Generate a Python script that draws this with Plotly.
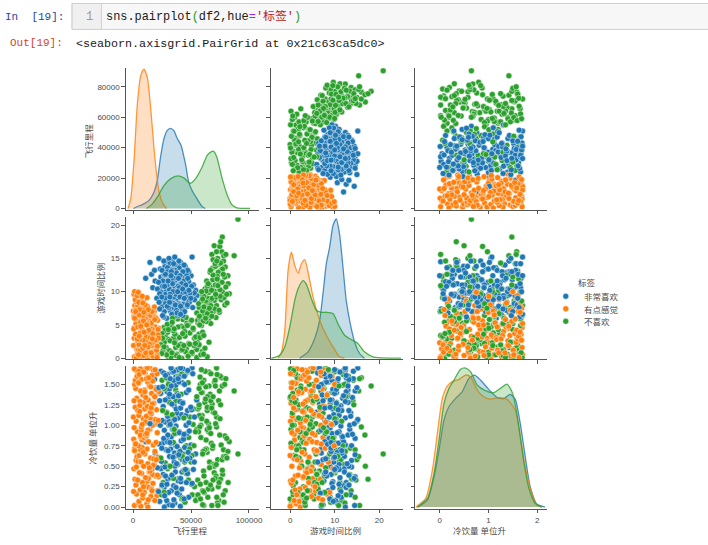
import plotly.graph_objects as go

W, H = 708, 545
BLUE, ORANGE, GREEN = "#1f77b4", "#ff7f0e", "#2ca02c"
CLASS_NAMES = ["非常喜欢", "有点感觉", "不喜欢"]
AXIS_TITLES = ["飞行里程", "游戏时间比例", "冷饮量 单位升"]

orange_mileage = [1200,4800,8300,11900,15400,18800,3000,6700,13100,20600,
2500,6100,9700,13600,17200,21200,500,8000,11200,15900,
3900,7400,10800,14700,19400,1700,5500,12400,16800,22000,
800,4300,9100,12700,16200,20100,2900,7000,14100,18200,
3400,6500,10200,15100,18900,1500,5200,8700,12000,21500,
2100,5900,9400,13300,17500,600,4500,7700,11400,19800,
3700,7200,10600,14400,16600,20900,1000,6300,12900,18400,
2700,5000,8900,11700,15700,19200,300,7900,13800,21700,
4100,6900,10000,14900,17900,1900,5700,9200,12300,20300,
3200,6000,8500,13000,16000,18700,900,7500,11000,22200,
2300,4700,9900,14200,17000,19600,1400,6600,12600,15300,
3600,7100,10400,13500,18100,2000,5300,8100,11600,20700,
2800,6200,9600,14600,16400,19000,1100,4900,12100,17700,
5100,9000,14000,18000,2200,7300,11500,16700,20000,3500,
8400,13200,17400,1300,6400,10500,15600,19100,4600,9300,
12800,16300,21000,2600,7800,11800,14800,5800,10100,18600]
orange_game = [0.2,3.1,6.4,1.4,4.8,0.9,8.2,0.0,7.3,2.6,
5.2,1.1,8.9,3.4,0.3,5.7,1.9,4.2,6.1,2.2,
0.6,7.6,2.9,4.6,1.2,6.8,3.7,0.1,5.9,3.0,
9.6,2.4,0.4,6.6,3.9,1.6,4.9,8.6,2.1,7.0,
1.3,5.4,3.3,0.7,6.2,7.9,0.0,2.7,9.1,4.3,
3.6,0.2,7.4,5.0,2.0,4.4,9.9,1.0,3.2,6.0,
8.0,2.5,0.9,4.1,6.9,0.4,3.0,5.6,1.7,7.7,
0.1,6.5,3.8,2.3,5.3,1.5,7.1,9.3,0.6,3.5,
4.7,1.8,6.7,3.1,0.2,8.8,2.8,5.1,7.8,1.2,
0.0,3.4,8.3,4.0,1.9,5.8,6.3,2.6,0.8,4.5,
7.2,0.5,2.2,5.5,3.7,0.3,10.0,4.8,1.4,6.4,
2.9,9.0,0.7,4.2,1.1,5.9,3.3,7.5,2.4,0.1,
6.1,1.6,3.9,0.5,7.0,2.7,4.6,8.4,5.2,3.6,
2.0,5.6,3.5,1.0,7.0,4.0,0.5,2.9,3.4,9.4,
1.5,5.1,2.4,6.0,3.0,8.0,0.8,4.7,1.2,6.9,
2.3,4.4,1.8,8.5,0.3,5.0,3.2,7.3,1.9,2.1]
orange_drink = [0.02,0.05,0.11,0.04,0.13,0.08,0.16,0.01,0.09,0.14,
0.27,0.21,0.18,0.24,0.29,0.2,0.19,0.3,0.26,0.22,
0.33,0.41,0.36,0.44,0.38,0.34,0.42,0.32,0.4,0.37,
0.47,0.56,0.5,0.53,0.46,0.58,0.49,0.55,0.48,0.52,
0.62,0.7,0.65,0.6,0.68,0.72,0.63,0.67,0.71,0.61,
0.78,0.74,0.85,0.8,0.76,0.83,0.75,0.82,0.87,0.79,
0.92,0.98,0.89,0.95,1.0,0.91,0.97,0.88,0.94,1.02,
1.05,1.12,1.08,1.03,1.14,1.07,1.1,1.01,1.13,1.06,
1.18,1.25,1.2,1.16,1.27,1.22,1.17,1.28,1.23,1.19,
1.33,1.29,1.37,1.31,1.39,1.35,1.3,1.4,1.34,1.41,
1.45,1.52,1.43,1.48,1.54,1.46,1.5,1.42,1.53,1.47,
1.6,1.56,1.64,1.58,1.66,1.55,1.62,1.68,1.57,1.63,
1.67,1.69,1.65,1.7,1.61,1.68,1.69,1.66,1.7,1.67,
0.07,0.25,0.43,0.59,0.77,0.93,1.11,1.26,1.44,1.6,
0.15,0.35,0.51,0.69,0.86,1.04,1.21,1.36,1.51,1.65,
0.0,0.2,0.39,0.57,0.73,0.9,1.09,1.24,1.41,1.59]

blue_mileage = [36000,27000,44000,31000,40000,23000,48000,34000,38000,29000,
42000,25000,33000,46000,37000,30000,51000,22000,39000,35000,
28000,43000,32000,47000,24000,41000,36500,26000,52000,33500,
38500,21000,45000,30500,35500,49000,27500,42500,37500,24500,
31500,40500,54000,28500,34500,44500,19000,39500,32500,47500,
25500,36800,43500,29500,50000,33000,22500,41500,38000,26500,
46500,35000,30000,48500,23500,40000,34000,27000,44000,37000,
31000,53000,20500,42000,36000,28000,45500,32000,39000,25000,
47000,35500,29000,41000,17000,33500,50500,38000,26000,43000,
30500,37500,23000,46000,34500,40500,28500,55000,31500,36500,
22300,44500,27500,39500,33000,48000,35000,25500,42500,29500,
14600,37000,32000,51500,24000,40000,38500,30000,50900,34000,
10900,43000,28000,36000,18500,41000,16000,26500,35000,31000,
35200,29200,42200,37800,31800,45800,25800,39200,33200,47200,
27200,41200,36200,30200,43800,34800,49800,23800,38800,32800,
40800,26800,45200,35800,28800,48200,37200,31200,44200,33800,
52800,24800,39800,29800,42800,36800,30800,46800,34200,27800]
blue_game = [10.6,12.4,8.9,7.4,13.6,9.7,11.5,14.5,6.8,10.2,
11.2,13.2,8.6,12.6,9.6,14.0,9.4,11.4,7.6,12.0,
8.2,10.0,11.2,7.8,12.2,14.4,8.0,9.2,11.0,13.2,
11.0,10.4,13.8,9.0,6.2,9.8,13.8,7.4,12.8,8.8,
12.2,9.2,10.2,11.2,10.0,12.0,11.6,14.6,7.0,10.6,
10.8,13.8,8.2,7.8,12.4,11.8,8.4,11.8,9.0,14.6,
9.4,7.6,13.0,8.4,13.4,10.6,9.0,7.0,14.0,11.4,
15.0,8.8,9.0,9.8,15.2,10.0,11.0,9.6,12.4,7.8,
13.2,11.4,6.0,7.8,10.6,6.6,10.8,13.6,11.0,13.0,
11.8,7.2,7.4,10.4,12.8,12.4,14.6,9.4,8.4,14.0,
15.0,7.0,9.6,8.2,13.0,13.0,9.4,6.4,12.8,12.6,
14.4,8.4,14.2,7.6,10.6,8.0,10.0,8.6,15.2,11.2,
12.0,6.4,12.6,12.4,13.2,6.6,12.6,6.2,14.2,10.6,
9.2,11.0,12.2,10.2,9.2,8.6,11.6,12.0,7.8,12.0,
10.8,9.6,13.2,11.6,11.6,8.2,9.0,10.0,10.8,12.4,
7.0,12.6,10.0,7.0,8.8,10.2,9.6,10.4,9.0,14.6,
9.8,9.2,11.0,13.6,10.4,11.8,7.6,8.0,13.4,9.0]
blue_drink = [0.05,0.0,0.1,0.03,0.15,0.07,0.12,0.02,0.17,0.08,
0.22,0.27,0.2,0.3,0.24,0.34,0.29,0.19,0.32,0.26,
0.38,0.44,0.36,0.41,0.47,0.35,0.43,0.4,0.46,0.39,
0.52,0.48,0.57,0.5,0.55,0.6,0.49,0.58,0.53,0.56,
0.62,0.68,0.65,0.7,0.61,0.73,0.66,0.64,0.71,0.67,
0.78,0.75,0.83,0.8,0.76,0.86,0.77,0.81,0.74,0.84,
0.9,0.96,0.88,0.93,1.0,0.91,0.97,0.94,0.89,0.99,
1.05,1.1,1.02,1.13,1.07,1.04,1.12,1.01,1.09,1.06,
1.18,1.24,1.16,1.21,1.05,1.26,1.19,1.15,1.23,1.28,
1.33,1.37,1.3,1.4,1.35,1.29,1.42,1.31,1.38,1.34,
1.46,1.5,1.44,1.53,1.48,1.43,1.55,1.47,1.52,1.41,
1.02,1.6,1.57,1.63,1.66,1.59,1.68,1.62,1.7,1.65,
0.8,1.69,1.61,1.67,1.56,1.7,1.58,1.64,1.66,1.54,
0.09,0.28,0.43,0.63,0.79,1.0,1.18,1.36,1.52,1.67,
0.14,0.31,0.5,0.69,0.87,1.06,1.22,1.39,1.57,1.7,
0.01,0.24,0.46,0.66,0.84,1.03,1.2,1.44,1.6,0.37,
0.55,0.72,0.92,1.11,1.27,1.49,0.18,0.59,0.95,1.31]

green_mileage = [30000,41000,52000,26000,58000,36000,47000,24500,62000,33000,44000,55000,28000,39000,60000,
31000,50000,27000,42000,57000,35000,46000,25000,64000,38000,53000,29000,43000,59000,32000,
48000,37000,61000,26500,45000,34000,56000,40000,30500,51000,28500,63000,36500,49000,24000,
41500,54000,33500,46500,27500,58500,38500,31500,44500,65500,52500,25500,39500,47500,35500,
55500,29500,42500,37000,50500,
60000,66000,72000,58000,75000,63000,69000,56000,78000,64000,
70000,61000,67000,74000,57000,80000,65000,71000,59000,76000,
62000,68000,73000,55000,79000,64500,70500,60500,66500,77000,
72500,58500,82000,63500,69500,74500,61500,67500,75500,57500,
71500,65500,81000,59500,78500,62500,68500,73500,56500,76500,
66000,71000,79500,64000,60000,72000,69000,75000,83000,67000,
90500,87200,77000,75500,70000,72000,80000,68000,
58200,61200,63800,65200,67800,70200,72800,74200,76800,79200,
57200,59800,62200,64800,66200,68800,71200,73800,75200,77800,
60800,63200,65800,68200,70800,73200,55800,78200,80800,69200,
62800,66800,71800,74800,59200,64200,67200,72200,77200,81800,
26800,29800,32800,35800,38800,41800,44800,47800,50800,53800,
56800,59800,24800,27800,30800,33800,36800,39800,42800,45800,
48800,51800,54800,57800,60800,25800,34800,43800,37800,46800]
green_game = [0.3,2.1,4.3,1.2,5.2,3.6,0.6,2.9,1.5,5.0,4.6,0.1,3.3,1.9,3.9,
0.9,5.6,2.4,0.0,2.0,4.1,1.4,3.7,0.2,6.2,3.0,0.5,5.8,4.9,2.6,
2.2,0.4,3.4,4.6,1.0,6.0,1.7,3.1,4.3,0.7,1.6,5.5,2.8,3.8,2.0,
4.8,3.2,0.8,5.3,2.7,0.5,5.9,1.1,4.0,2.4,1.9,3.0,6.4,0.3,4.4,
2.6,5.1,1.3,3.5,5.7,
7.1,11.0,9.2,6.0,13.1,8.4,12.5,5.3,14.6,6.7,
10.1,9.3,7.9,11.6,7.6,10.7,5.8,13.8,8.6,8.8,
10.4,6.3,15.0,6.8,12.2,9.0,7.4,5.6,12.9,10.0,
11.9,9.8,11.2,11.6,8.9,6.9,7.8,10.6,14.3,5.0,
6.1,9.9,8.3,6.5,9.1,6.0,13.5,12.9,8.2,16.0,
8.0,11.0,13.7,10.8,8.9,7.9,14.8,10.3,9.7,5.2,
20.9,15.4,18.2,17.5,16.9,16.0,15.6,15.6,
5.4,7.7,9.8,6.4,10.2,8.7,12.3,7.2,11.4,8.0,
6.3,9.4,5.9,11.2,8.5,11.8,9.6,14.1,9.3,12.6,
6.6,10.1,7.5,9.0,14.2,10.9,5.7,15.4,9.6,7.0,
7.3,13.2,12.2,16.8,10.0,8.1,6.8,14.6,13.4,12.4,
1.7,3.9,0.2,2.3,4.7,1.2,3.3,5.0,0.9,2.2,
3.6,1.0,0.7,4.2,2.8,5.4,1.6,0.1,3.7,6.1,
2.1,4.5,1.3,3.1,0.6,2.6,3.0,1.9,0.6,4.9]
green_drink = [0.04,0.6,1.2,0.3,1.5,0.9,1.65,0.15,0.7,1.1,0.45,1.35,0.8,1.6,0.2,
1.0,0.55,1.45,0.1,1.25,0.35,0.75,1.55,0.95,1.68,0.25,1.15,0.65,1.4,0.5,
0.85,1.3,0.02,1.05,1.62,0.4,1.2,0.7,1.5,0.15,1.58,0.3,0.9,1.1,0.6,
1.38,0.08,1.67,0.45,0.8,1.0,0.2,1.28,0.55,1.48,0.75,1.18,0.35,1.52,0.95,
0.12,1.42,0.62,1.64,0.28,
0.03,0.55,1.1,0.28,1.6,0.82,1.35,0.15,0.7,1.22,
0.42,1.55,0.9,0.08,1.45,0.62,1.02,0.35,1.68,0.76,
1.28,0.22,0.58,0.95,1.5,0.12,1.15,0.68,1.38,0.45,
1.62,0.85,0.3,1.05,0.52,1.42,0.18,0.78,1.25,0.98,
0.38,1.65,0.6,1.12,0.06,1.32,0.72,0.25,0.92,1.58,
0.48,1.48,0.2,1.18,0.65,1.7,0.33,1.08,0.8,1.3,
0.65,1.42,1.48,0.34,0.5,0.98,1.57,0.02,
0.1,0.38,0.67,0.92,1.21,1.53,0.05,0.3,0.58,0.87,
1.12,1.4,1.66,0.22,0.49,0.75,1.02,1.3,1.6,0.15,
0.44,0.71,0.97,1.26,1.55,0.02,0.33,0.62,0.84,1.16,
1.47,0.27,0.52,0.88,1.08,1.35,1.63,0.12,0.4,0.68,
0.18,0.47,0.78,1.08,1.36,1.63,0.06,0.33,0.63,0.92,
1.22,1.52,0.26,0.54,0.83,1.13,1.43,1.69,0.11,0.41,
0.71,1.01,1.31,1.59,0.19,0.49,0.79,1.09,1.39,1.66]

# Density curves as they appear on the diagonal, in the units of each row's axis
kde1_blue_x = [290,3700,8000,13700,18000,20900,23700,26600,29400,32300,35200,38000,41500,45200,48000,50900,55200,59500,62300]
kde1_blue_y = [0,1300,2600,5250,10700,18400,33700,45700,51200,52700,51200,46300,41300,29300,17300,11800,6300,1300,0]
kde1_orange_x = [-4300,-2000,860,3700,6600,9400,12300,15150,18000,20300,22300,25160,28900]
kde1_orange_y = [0,6340,31500,68600,87200,91600,86100,66450,40200,22700,11800,4150,0]
kde1_green_x = [11700,16600,20900,26600,32300,38600,43800,49500,53800,59500,63800,66600,69500,72300,76600,80900,85200,89500,100900]
kde1_green_y = [0,3060,7430,15100,19500,21400,20100,16600,19500,27100,34800,36900,37600,33700,20500,9600,2600,440,0]

kde2_blue_x = [2.16,4.03,5.52,6.64,7.39,8.13,8.88,9.63,10.37,11.1,11.87,12.6,13.58,14.48,15.6,16.7]
kde2_blue_y = [0,0.95,2.95,5.7,9.7,14.2,16.7,19.95,20.95,18.7,13.7,8.7,4.95,2.45,0.7,0]
kde2_orange_x = [-2.69,-1.94,-1.19,-0.45,0.3,1.04,1.79,2.54,3.28,4.03,5.15,6.64,8.13,9.63,11.1,12.2]
kde2_orange_y = [0,0.95,4.2,13.2,15.95,13.95,12.8,14.2,14.8,12.95,9.2,5.7,3.45,1.7,0.2,0]
kde2_green_x = [-4.18,-2.31,-1.19,-0.07,1.04,1.79,2.91,3.66,4.78,5.9,7.01,8.13,9.63,10.9,12.24,13.73,15.22,16.7,18.58,20.45,24.9]
kde2_green_y = [0,0.45,1.7,4.7,8.7,10.45,11.65,11.1,8.95,7.2,6.9,6.9,6.7,4.95,3.45,2.8,2.2,0.95,0.2,0.05,0]

kde3_blue_x = [-0.456,-0.252,-0.116,-0.014,0.088,0.19,0.327,0.463,0.599,0.714,0.837,1.007,1.177,1.313,1.449,1.551,1.653,1.755,1.857,1.993,2.163]
kde3_blue_y = [0,0.086,0.371,0.697,1.064,1.227,1.329,1.411,1.574,1.614,1.553,1.439,1.341,1.325,1.378,1.317,1.023,0.616,0.249,0.037,0]
kde3_orange_x = [-0.49,-0.286,-0.15,-0.048,0.054,0.156,0.259,0.395,0.531,0.633,0.769,0.905,1.041,1.211,1.381,1.551,1.653,1.755,1.891,1.993,2.095]
kde3_orange_y = [0,0.106,0.452,0.9,1.329,1.48,1.533,1.561,1.614,1.594,1.431,1.349,1.321,1.337,1.317,1.186,0.86,0.493,0.167,0.024,0]
kde3_green_x = [-0.456,-0.252,-0.116,-0.014,0.088,0.19,0.293,0.429,0.531,0.633,0.769,0.939,1.109,1.245,1.381,1.497,1.605,1.721,1.823,1.959,2.095]
kde3_green_y = [0,0.106,0.412,0.819,1.268,1.451,1.553,1.684,1.7,1.655,1.492,1.423,1.398,1.451,1.504,1.39,1.064,0.575,0.249,0.045,0]

x_tick_vals = [[0, 50000, 100000], [0, 10, 20], [0, 1, 2]]
x_tick_text = [["0", "50000", "100000"], ["0", "10", "20"], ["0", "1", "2"]]
y_tick_vals = [[0, 20000, 40000, 60000, 80000], [0, 5, 10, 15, 20], [0, 0.25, 0.5, 0.75, 1, 1.25, 1.5]]
y_tick_text = [["0", "20000", "40000", "60000", "80000"], ["0", "5", "10", "15", "20"],
               ["0.00", "0.25", "0.50", "0.75", "1.00", "1.25", "1.50"]]

for a, b, c in [(orange_mileage, orange_game, orange_drink), (blue_mileage, blue_game, blue_drink),
                (green_mileage, green_game, green_drink)]:
    assert len(a) == len(b) == len(c), (len(a), len(b), len(c))

# pixel layout, with the offsets measured between render and reference folded in
def py(y):
    return (y + 1) / 0.995

COL_PX = [(126.5, 260.5), (272.5, 405.5), (417.5, 550.5)]
ROW_PX = [(py(67), py(209)), (py(217), py(359)), (py(366), py(509))]
X_RANGE = [[-6260, 108650], [-4.3, 25.4], [-0.504, 2.21]]
Y_RANGE = [[-656, 92460], [-0.15, 21.15], [-0.0207, 1.723]]
TICK_FONT = dict(family="Liberation Sans, Arial", size=8, color="#4a4a4a")
CJK = "Noto Sans CJK SC"
MONO = "Liberation Mono, DejaVu Sans Mono"

classes = [
    (GREEN, [green_mileage, green_game, green_drink]),
    (BLUE, [blue_mileage, blue_game, blue_drink]),
    (ORANGE, [orange_mileage, orange_game, orange_drink]),
]
kdes = [
    [(BLUE, kde1_blue_x, kde1_blue_y), (ORANGE, kde1_orange_x, kde1_orange_y), (GREEN, kde1_green_x, kde1_green_y)],
    [(BLUE, kde2_blue_x, kde2_blue_y), (ORANGE, kde2_orange_x, kde2_orange_y), (GREEN, kde2_green_x, kde2_green_y)],
    [(BLUE, kde3_blue_x, kde3_blue_y), (ORANGE, kde3_orange_x, kde3_orange_y), (GREEN, kde3_green_x, kde3_green_y)],
]

def rgba(h, a):
    return f"rgba({int(h[1:3],16)},{int(h[3:5],16)},{int(h[5:7],16)},{a})"

fig = go.Figure()
layout = {}
for r in range(3):
    for c in range(3):
        n = r * 3 + c + 1
        sfx = "" if n == 1 else str(n)
        xref, yref = f"x{sfx}", f"y{sfx}"
        common = dict(showgrid=False, zeroline=False, showline=True, linecolor="#555", linewidth=1,
                      ticks="outside", ticklen=3.5, tickwidth=1, tickcolor="#555", tickfont=TICK_FONT)
        layout[f"xaxis{sfx}"] = dict(domain=[COL_PX[c][0] / W, COL_PX[c][1] / W], range=X_RANGE[c],
                                     anchor=yref, tickmode="array", tickvals=x_tick_vals[c], ticktext=x_tick_text[c],
                                     showticklabels=r == 2, **common)
        layout[f"yaxis{sfx}"] = dict(domain=[1 - ROW_PX[r][1] / H, 1 - ROW_PX[r][0] / H], range=Y_RANGE[r],
                                     anchor=xref, tickmode="array", tickvals=y_tick_vals[r], ticktext=y_tick_text[r],
                                     showticklabels=c == 0, **common)
        if r == c:
            for col, xs, ys in kdes[r]:
                fig.add_trace(go.Scatter(x=xs, y=ys, mode="lines", fill="toself", fillcolor=rgba(col, 0.25),
                                         line=dict(color=rgba(col, 0.8), width=1.3, shape="spline", smoothing=0.6),
                                         showlegend=False, xaxis=xref, yaxis=yref, hoverinfo="skip"))
        else:
            # three interleaved passes so the classes overlap each other as in a mixed draw order
            for step in range(3):
                for col, cols in classes:
                    fig.add_trace(go.Scatter(x=cols[c][step::3], y=cols[r][step::3], mode="markers",
                                             marker=dict(color=col, size=6, line=dict(color="rgba(255,255,255,0.8)", width=0.6)),
                                             showlegend=False, xaxis=xref, yaxis=yref))

def note(text, x, y, size, color, family=CJK, anchor="left", angle=0):
    return dict(text=text, x=x / W, y=1 - py(y) / H, xref="paper", yref="paper", showarrow=False,
                xanchor=anchor, yanchor="middle", textangle=angle, align=anchor, borderpad=0,
                font=dict(family=family, size=size, color=color))

code = ('<span style="color:#202020">sns.pairplot</span><span style="color:#1a9a1a">(</span>'
        '<span style="color:#202020">df2,hue</span><span style="color:#aa22ff">=</span>'
        '<span style="color:#ba2121">\'标签\'</span><span style="color:#1a9a1a">)</span>')
annotations = [
    note("In  [19]:", 4, 16, 11, "#303f9f", MONO),
    note("Out[19]:", 9.5, 42, 11, "#d84315", MONO),
    note("1", 90, 16, 12, "#999999", MONO, "center"),
    note(code, 106, 16, 11.9, "#202020", MONO + ", " + CJK),
    note("&lt;seaborn.axisgrid.PairGrid at 0x21c63ca5dc0&gt;", 75.5, 43, 11.7, "#202020", MONO),
    note(AXIS_TITLES[0], 192, 530, 8.5, "#4a4a4a", CJK, "center"),
    note(AXIS_TITLES[1], 337, 530, 8.5, "#4a4a4a", CJK, "center"),
    note(AXIS_TITLES[2], 482, 530, 8.5, "#4a4a4a", CJK, "center"),
    note(AXIS_TITLES[0], 88, 140, 8.5, "#4a4a4a", CJK, "center", -90),
    note(AXIS_TITLES[1], 101, 288, 8.5, "#4a4a4a", CJK, "center", -90),
    note(AXIS_TITLES[2], 92, 438, 8.5, "#4a4a4a", CJK, "center", -90),
    note("标签", 590, 282, 8.5, "#4a4a4a", CJK, "center"),
    note(CLASS_NAMES[0], 586, 296, 8.5, "#4a4a4a"),
    note(CLASS_NAMES[1], 586, 308.5, 8.5, "#4a4a4a"),
    note(CLASS_NAMES[2], 586, 321, 8.5, "#4a4a4a"),
]
def box(x0, y0, x1, y1, fill, line):
    return dict(type="rect", xref="paper", yref="paper", x0=x0 / W, x1=x1 / W, y0=1 - py(y0) / H, y1=1 - py(y1) / H,
                fillcolor=fill, line=dict(color=line, width=1), layer="below")
def swatch(cy, color):
    return dict(type="circle", xref="paper", yref="paper", x0=566 / W, x1=572 / W, y0=1 - py(cy + 3) / H, y1=1 - py(cy - 3) / H,
                fillcolor=color, line=dict(color="rgba(255,255,255,0.8)", width=0.6))
shapes = [box(72.5, 2.5, 720, 28.5, "#f7f7f7", "#cfcfcf"), box(72.5, 2.5, 102, 28.5, "#f0f0f0", "#cfcfcf"),
          swatch(296, BLUE), swatch(308.5, ORANGE), swatch(321, GREEN)]

fig.update_layout(width=W, height=H, margin=dict(l=0, r=0, t=0, b=0), autosize=False,
                  paper_bgcolor="white", plot_bgcolor="white", hovermode=False, showlegend=False,
                  annotations=annotations, shapes=shapes, **layout)
fig.write_html("out.html", post_script="document.documentElement.style.overflow='hidden';document.body.style.margin='0';",
               config=dict(displayModeBar=False))
